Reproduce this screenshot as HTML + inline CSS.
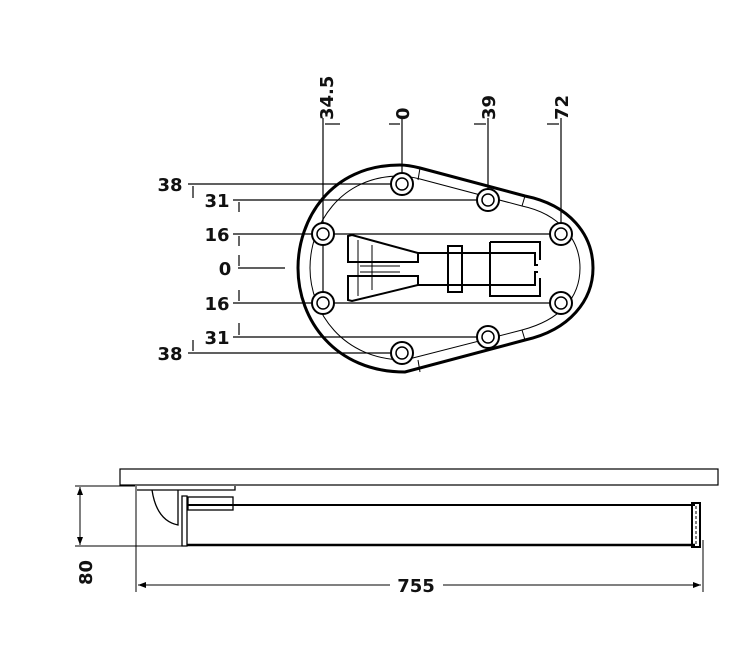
<!DOCTYPE html>
<html><head><meta charset="utf-8"><style>
html,body{margin:0;padding:0;background:#fff}
svg{display:block}
text{font-family:"DejaVu Sans","Liberation Sans",sans-serif;font-weight:bold;font-size:18px;fill:#111}
</style></head><body>
<svg width="740" height="671" viewBox="0 0 740 671" xmlns="http://www.w3.org/2000/svg">
<g stroke="#000" fill="none">
<path d="M400 165 C330 165 298 220 298 268 C298 320 335 372 405 372 L525 340 C570 330 593 300 593 268 C593 235 570 205 525 196 L420 168 C412 166 406 165 400 165 Z" stroke-width="3"/>
<path d="M400 176 C340 176 310 225 310 268 C310 312 343 360 405 360 L522 330 C560 320 580 298 580 268 C580 240 560 214 522 206 L420 179 C412 177 406 176 400 176 Z" stroke-width="1"/>
<path d="M420 168 L418 180 M525 196 L522 206 M420 372 L418 360 M525 340 L522 330" stroke-width="1"/>
<g stroke-width="1.2">
<line x1="323" y1="118" x2="323" y2="303"/>
<line x1="402" y1="118" x2="402" y2="184"/>
<line x1="488" y1="118" x2="488" y2="200"/>
<line x1="561" y1="118" x2="561" y2="234"/>
<line x1="325" y1="124" x2="340" y2="124"/><line x1="389" y1="124" x2="400" y2="124"/>
<line x1="474" y1="124" x2="486" y2="124"/><line x1="547" y1="124" x2="559" y2="124"/>
<line x1="188" y1="184" x2="402" y2="184"/>
<line x1="233" y1="200" x2="488" y2="200"/>
<line x1="233" y1="234" x2="561" y2="234"/>
<line x1="238" y1="268" x2="285" y2="268"/>
<line x1="233" y1="303" x2="561" y2="303"/>
<line x1="233" y1="337" x2="488" y2="337"/>
<line x1="188" y1="353" x2="402" y2="353"/>
<line x1="193" y1="186" x2="193" y2="198"/>
<line x1="239" y1="202" x2="239" y2="212"/><line x1="239" y1="236" x2="239" y2="246"/>
<line x1="239" y1="255" x2="239" y2="266"/><line x1="239" y1="290" x2="239" y2="301"/>
<line x1="239" y1="323" x2="239" y2="335"/><line x1="193" y1="340" x2="193" y2="351"/>
</g>
<g stroke-width="2" fill="#fff">
<circle cx="402" cy="184" r="11"/><circle cx="488" cy="200" r="11"/>
<circle cx="323" cy="234" r="11"/><circle cx="561" cy="234" r="11"/>
<circle cx="323" cy="303" r="11"/><circle cx="561" cy="303" r="11"/>
<circle cx="488" cy="337" r="11"/><circle cx="402" cy="353" r="11"/>
</g>
<g stroke-width="1.5">
<circle cx="402" cy="184" r="6"/><circle cx="488" cy="200" r="6"/>
<circle cx="323" cy="234" r="6"/><circle cx="561" cy="234" r="6"/>
<circle cx="323" cy="303" r="6"/><circle cx="561" cy="303" r="6"/>
<circle cx="488" cy="337" r="6"/><circle cx="402" cy="353" r="6"/>
</g>
<path d="M348 236 L352 235 L418 253 L418 262 L351 262 L348 262 Z M348 300 L352 301 L418 285 L418 276 L351 276 L348 276 Z" stroke-width="2"/>
<path d="M418 253 L535 253 L535 265 L538 265 M418 285 L535 285 L535 272 L538 272 M448 246 L462 246 L462 292 L448 292 Z M490 242 L540 242 L540 260 M490 242 L490 296 L540 296 L540 278" stroke-width="2"/>
<path d="M358 240 L358 296 M372 245 L372 290 M360 266 L400 266 M360 272 L400 272" stroke-width="1"/>
<rect x="120" y="469" width="598" height="16" stroke-width="1.2"/>
<line x1="75" y1="486" x2="135" y2="486" stroke-width="1"/>
<line x1="75" y1="546" x2="187" y2="546" stroke-width="1"/>
<line x1="80" y1="487" x2="80" y2="545" stroke-width="1"/>
<line x1="136" y1="486" x2="136" y2="592" stroke-width="1"/>
<line x1="703" y1="540" x2="703" y2="592" stroke-width="1"/>
<line x1="138" y1="585" x2="390" y2="585" stroke-width="1"/>
<line x1="443" y1="585" x2="701" y2="585" stroke-width="1"/>
<path d="M137 490 L235 490 L235 486 M152 490 C155 510 163 522 178 525 L178 490 M182 496 L187 496 L187 546 L182 546 Z" stroke-width="1.3"/>
<rect x="188" y="497" width="45" height="13" stroke-width="1.3"/>
<line x1="187" y1="505" x2="695" y2="505" stroke-width="2"/>
<line x1="187" y1="545" x2="695" y2="545" stroke-width="2.5"/>
<rect x="692" y="503" width="8" height="44" stroke-width="2"/>
<line x1="696" y1="506" x2="696" y2="544" stroke-width="1" stroke-dasharray="3 2"/>
</g>
<g fill="#000">
<path d="M80 487 l-3 8 h6 Z M80 545 l-3 -8 h6 Z M138 585 l8 -3 v6 Z M701 585 l-8 -3 v6 Z"/>
</g>
<text x="170" y="191" text-anchor="middle">38</text>
<text x="217" y="207" text-anchor="middle">31</text>
<text x="217" y="241" text-anchor="middle">16</text>
<text x="225" y="275" text-anchor="middle">0</text>
<text x="217" y="310" text-anchor="middle">16</text>
<text x="217" y="344" text-anchor="middle">31</text>
<text x="170" y="360" text-anchor="middle">38</text>
<text transform="translate(333,120) rotate(-90)">34.5</text>
<text transform="translate(409,120) rotate(-90)">0</text>
<text transform="translate(495,120) rotate(-90)">39</text>
<text transform="translate(568,120) rotate(-90)">72</text>
<text transform="translate(92,585) rotate(-90)">80</text>
<text x="416" y="592" text-anchor="middle">755</text>
</svg>
</body></html>
